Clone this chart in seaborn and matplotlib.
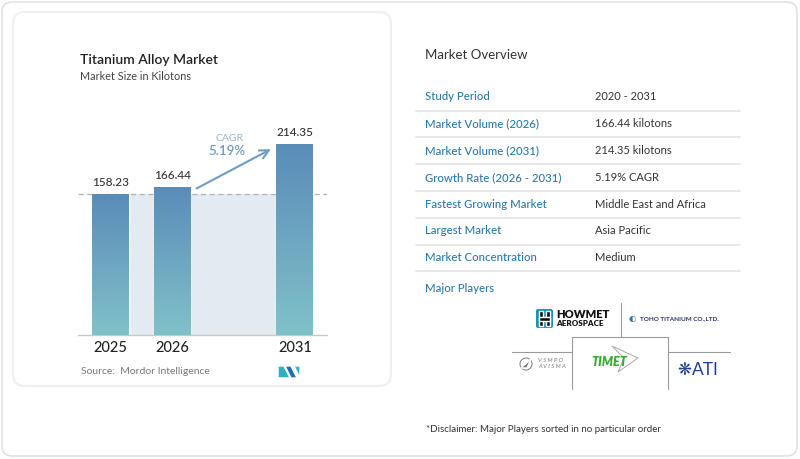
import numpy as np
import pandas as pd
import matplotlib
matplotlib.use("Agg")
import matplotlib.pyplot as plt
import seaborn as sns
from matplotlib.patches import FancyBboxPatch, Rectangle, Polygon
from matplotlib.colors import LinearSegmentedColormap

# DATA
years = ["2025", "2026", "2031"]
values = [158.23, 166.44, 214.35]
cagr_label = "5.19%"

row_labels = ["Study Period", "Market Volume (2026)", "Market Volume (2031)",
              "Growth Rate (2026 - 2031)", "Fastest Growing Market",
              "Largest Market", "Market Concentration"]
row_values = ["2020 - 2031", "166.44 kilotons", "214.35 kilotons",
              "5.19% CAGR", "Middle East and Africa", "Asia Pacific", "Medium"]

sns.set_theme(style="white")
plt.rcParams["font.family"] = ["Lato", "DejaVu Sans"]

W, H = 800, 459
fig = plt.figure(figsize=(8, 4.59), dpi=100)

# background axes in pixel units
bg = fig.add_axes([0, 0, 1, 1], zorder=0)
bg.set_xlim(0, W)
bg.set_ylim(H, 0)
bg.axis("off")

bg.add_patch(FancyBboxPatch((2, 2), 795, 454, boxstyle="round,pad=0,rounding_size=10",
                            ec="#dcdcdc", fc="white", lw=1))
bg.add_patch(FancyBboxPatch((13, 12), 378, 374, boxstyle="round,pad=0,rounding_size=12",
                            ec="#f0f0f0", fc="white", lw=1.5))

bg.text(80, 60, "Titanium Alloy Market", fontsize=10, fontweight="semibold",
        color="#222222", va="center")
bg.text(80, 77, "Market Size in Kilotons", fontsize=7.8, color="#444444", va="center")
bg.text(81, 372, "Source:  Mordor Intelligence", fontsize=7.5, color="#777777", va="center")

# mordor logo
bg.add_patch(Polygon([(278, 378), (278, 366), (284, 366), (290, 378)], closed=True, fc="#2fb1c4"))
bg.add_patch(Polygon([(285, 366), (291, 366), (297, 378), (291, 378)], closed=True, fc="#1f6fb0"))
bg.add_patch(Polygon([(294, 366), (300, 366), (300, 378), (297, 372)], closed=True, fc="#2fb1c4"))

# right panel
bg.text(425, 55, "Market Overview", fontsize=9.5, color="#333333", va="center")
row_y = np.arange(len(row_labels)) * 26.8 + 97
for yy, lab, val in zip(row_y, row_labels, row_values):
    bg.text(425, yy, lab, fontsize=8.2, fontweight="medium", color="#2a7aaa", va="center")
    bg.text(595, yy, val, fontsize=8, color="#333333", va="center")
    bg.plot([416, 740], [yy + 13.5, yy + 13.5], color="#e6e6e6", lw=1.3)

bg.text(425, 289, "Major Players", fontsize=8.2, fontweight="medium", color="#2a7aaa",
        va="center")

# logo grid lines
lc = "#9a9a9a"
bg.plot([620.5, 620.5], [303, 337], color=lc, lw=0.8)
bg.plot([512, 572], [351.5, 351.5], color=lc, lw=0.8)
bg.plot([668, 730], [351.5, 351.5], color=lc, lw=0.8)
bg.plot([572, 572, 668, 668], [389, 337, 337, 389], color=lc, lw=0.8)

# howmet
bg.add_patch(FancyBboxPatch((536, 309), 17, 19, boxstyle="round,pad=0,rounding_size=2",
                            fc="#1597b0", ec="none"))
bg.add_patch(Rectangle((539, 311), 4, 15, fc="#111111"))
bg.add_patch(Rectangle((546, 311), 4, 15, fc="#111111"))
bg.add_patch(Rectangle((539, 316.5), 11, 4, fc="#111111"))
bg.text(556, 314, "HOWMET", fontsize=8, fontweight="heavy", color="#111111", va="center")
bg.text(556, 323.5, "AEROSPACE", fontsize=5.8, fontweight="heavy", color="#111111", va="center")

# toho
bg.text(629, 319, "\u25d0", fontsize=6, color="#3a6fb0", va="center")
bg.text(640, 319, "TOHO TITANIUM CO.,LTD.", fontsize=4.6, fontweight="bold",
        color="#26336b", va="center")

# vsmpo
bg.add_patch(plt.Circle((526, 364), 6, fc="none", ec="#888888", lw=0.8))
bg.add_patch(Polygon([(521, 368), (531, 359), (527, 368)], closed=True, fc="#777777"))
bg.text(538, 360, "V S M P O", fontsize=4.2, style="italic", color="#777777", va="center")
bg.text(538, 367, "A V I S M A", fontsize=4.2, style="italic", color="#777777", va="center")

# timet
bg.add_patch(Polygon([(612, 346), (638, 358), (618, 372), (624, 358)], closed=True,
                     fc="none", ec="#a8a8a8", lw=0.7))
bg.text(591, 362, "TIMET", fontsize=9, fontweight="heavy", style="italic",
        color="#3aaa35", va="center")

# ati
bg.text(677, 370, "\u274b", fontsize=12, color="#1f3f8f", va="center",
        family=["DejaVu Sans"])
bg.text(692, 370, "ATI", fontsize=12.5, color="#1f3f8f", va="center")

bg.text(426, 430, "*Disclaimer: Major Players sorted in no particular order",
        fontsize=7, color="#333333", va="center")

# bar chart
ax = fig.add_axes([78 / W, 1 - 335 / H, 249 / W, 215 / H], zorder=2)
ax.patch.set_alpha(0)
df = pd.DataFrame({"year": years, "value": values})
sns.barplot(data=df, x="year", y="value", order=["2025", "2026", "gap", "2031"],
            width=0.6, color="#6a9fc0", saturation=1, ax=ax, zorder=3)

xlim = (-0.533, 3.525)
ylim = (0, 241.3)

ax.fill_between([0.3, 2.7], 0, values[0], color="#e2eaf2", zorder=1, lw=0)
ax.axhline(values[0], color="#a9b1b9", lw=0.9, ls=(0, (4, 3)), zorder=2)

cmap = LinearSegmentedColormap.from_list("bar", ["#80c1c9", "#5a8cb9"])
grad = np.linspace(0, 1, 256).reshape(-1, 1)
for p in ax.patches:
    x0, w, h = p.get_x(), p.get_width(), p.get_height()
    if h <= 0:
        continue
    im = ax.imshow(grad, extent=[x0, x0 + w, 0, h], origin="lower", cmap=cmap,
                   aspect="auto", zorder=4)
    im.set_clip_path(p)

pos = [0, 1, 3]
for xp, v in zip(pos, values):
    ax.text(xp, v + 12.5, f"{v:.2f}", ha="center", va="center", fontsize=8.5,
            fontweight="medium", color="#333333", zorder=5)

ax.annotate("", xy=(2.65, 210), xytext=(1.36, 163),
            arrowprops=dict(arrowstyle="->", color="#6f9cc1", lw=1.5, mutation_scale=16),
            zorder=5)
ax.text(1.93, 220, "CAGR", ha="center", va="center", fontsize=7.5, color="#9db3c9")
ax.text(1.9, 206.5, cagr_label, ha="center", va="center", fontsize=9.5,
        fontweight="semibold", color="#6f9cc1")

ax.set_xlim(*xlim)
ax.set_ylim(*ylim)
ax.set_xticks(pos, years)
ax.tick_params(axis="x", length=0, pad=4, labelsize=10.5, labelcolor="#222222")
for t in ax.get_xticklabels():
    t.set_fontweight("medium")
ax.set_yticks([])
ax.set_xlabel("")
ax.set_ylabel("")
for s in ["top", "left", "right"]:
    ax.spines[s].set_visible(False)
ax.spines["bottom"].set_color("#c8c8c8")
ax.spines["bottom"].set_linewidth(1)

fig.savefig("out.png", dpi=100)
